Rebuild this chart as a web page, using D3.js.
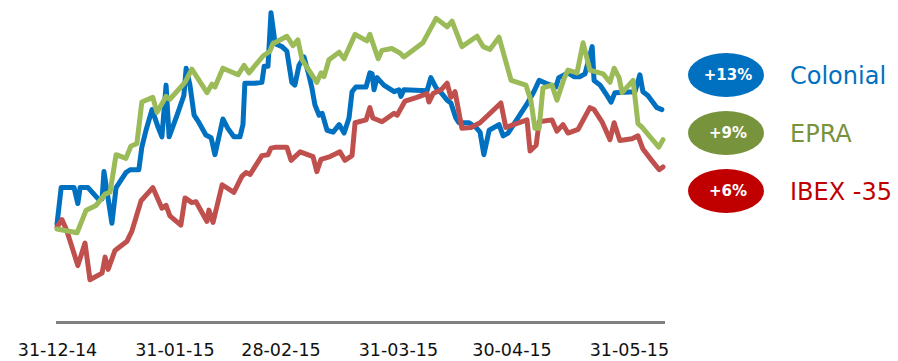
<!DOCTYPE html>
<html>
<head>
<meta charset="utf-8">
<script src="https://cdn.jsdelivr.net/npm/d3@7"></script>
<style>
  html, body { margin: 0; padding: 0; background: #fff; }
  svg { display: block; font-family: "DejaVu Sans", Verdana, sans-serif; }
</style>
</head>
<body>
<div id="chart"></div>
<script>
// day offset from 31-12-14, % change since start
const colonial = [
  [0, 0.4], [1.1, 4.3], [4.5, 4.3], [5.5, 2.6], [6.1, 4.3], [8.2, 4.3], [11.1, 3.0], [11.9, 3.1],
  [12.4, 6.0], [14.5, 0.5], [15.6, 4.3], [18.2, 5.9], [19.3, 6.2], [21.6, 6.2], [22.4, 8.6], [23.5, 10.4],
  [25.1, 12.6], [26.7, 10.7], [27.7, 9.7], [28.8, 15.2], [29.6, 9.7], [31.7, 12.0], [33.5, 14.1], [34.1, 17.0],
  [35.1, 15.2], [36.2, 12.0], [37.5, 11.2], [39.3, 9.9], [40.7, 9.6], [41.7, 7.8], [43.8, 11.6], [45.1, 10.6],
  [46.7, 9.7], [48.3, 9.7], [49.1, 11.0], [49.6, 15.4], [52.3, 15.4], [54.1, 15.5], [54.7, 17.2], [55.7, 17.2],
  [56.5, 22.9], [57.6, 19.6], [59.4, 19.3], [60.7, 18.8], [62.0, 15.5], [62.8, 15.2], [63.9, 17.3], [65.2, 18.2],
  [66.3, 16.6], [67.3, 14.9], [68.1, 13.1], [69.2, 12.0], [70.0, 12.2], [71.3, 10.4], [72.9, 10.2], [74.5, 11.0],
  [75.8, 10.1], [77.1, 11.7], [77.9, 14.5], [78.9, 15.0], [81.6, 15.0], [82.6, 16.5], [83.2, 16.4], [83.7, 14.7],
  [84.5, 16.0], [86.3, 15.2], [89.0, 14.5], [90.3, 14.7], [90.8, 14.0], [91.6, 14.7], [97.7, 14.6], [98.7, 16.0],
  [100.1, 14.9], [101.4, 14.4], [103.0, 13.6], [104.0, 13.3], [105.3, 11.7], [106.1, 11.2], [108.8, 11.2], [110.6, 10.7],
  [111.7, 10.2], [112.7, 7.8], [114.1, 10.4], [116.7, 11.0], [117.8, 9.8], [119.1, 10.1], [124.1, 13.2], [125.9, 14.5],
  [127.3, 15.7], [129.1, 15.4], [131.7, 15.0], [132.5, 16.0], [134.9, 16.5], [136.5, 16.1], [138.1, 16.1], [139.4, 16.4],
  [141.3, 19.3], [141.8, 15.7], [143.4, 15.2], [145.2, 14.1], [146.3, 13.4], [147.3, 14.4], [152.6, 14.5], [153.9, 16.3],
  [154.7, 14.5], [156.0, 14.1], [158.4, 12.8], [159.7, 12.6]
];

const epra = [
  [0, -0.1], [5.3, -0.5], [7.7, 1.9], [10.3, 2.4], [12.7, 3.6], [14.0, 3.8], [15.6, 7.8], [18.2, 7.4],
  [19.5, 8.7], [21.1, 9.0], [22.4, 13.4], [25.3, 13.9], [26.4, 12.3], [28.8, 14.0], [29.8, 13.7], [33.8, 15.5],
  [35.6, 16.9], [39.6, 14.4], [40.9, 15.3], [41.7, 15.0], [43.8, 17.0], [47.8, 16.3], [49.4, 17.3], [50.7, 16.5],
  [54.4, 18.3], [56.2, 18.8], [57.0, 19.6], [60.7, 20.4], [62.3, 19.4], [63.6, 20.0], [64.7, 17.9], [68.6, 15.5],
  [69.7, 16.5], [70.5, 16.1], [71.8, 17.9], [74.5, 18.7], [75.8, 18.0], [78.7, 20.6], [81.8, 19.9], [82.6, 20.6],
  [84.8, 18.0], [85.8, 18.9], [88.4, 19.1], [90.6, 18.6], [91.6, 18.2], [96.6, 19.7], [100.1, 22.3], [103.0, 21.4],
  [104.3, 22.0], [106.9, 19.3], [110.9, 20.4], [112.5, 19.3], [114.3, 19.0], [116.7, 20.3], [118.5, 17.7], [119.9, 15.7],
  [123.8, 15.2], [125.1, 13.6], [126.2, 10.6], [127.3, 10.6], [128.3, 14.9], [130.7, 15.2], [132.0, 13.6], [133.9, 15.9],
  [134.9, 16.8], [137.3, 16.5], [138.9, 19.7], [140.7, 16.8], [144.2, 16.4], [146.0, 15.5], [147.1, 17.0], [148.4, 16.0],
  [149.2, 14.4], [152.1, 15.7], [153.4, 11.1], [154.5, 10.7], [156.6, 9.7], [158.9, 8.6], [160.0, 9.4]
];

const ibex = [
  [0, 0.1], [1.3, 0.9], [2.6, -0.3], [5.5, -4.0], [7.4, -1.6], [8.7, -5.5], [11.9, -4.8], [12.7, -3.1],
  [13.5, -4.4], [15.3, -2.4], [18.5, -1.4], [19.8, -0.3], [22.2, 2.9], [25.3, 4.3], [27.7, 2.1], [28.8, 2.4],
  [29.8, 1.3], [32.7, 0.3], [33.8, 3.2], [35.6, 2.7], [36.7, 2.8], [39.6, 0.7], [40.1, 1.9], [41.2, 0.6],
  [43.6, 4.6], [46.7, 3.8], [48.8, 5.5], [49.9, 5.9], [51.0, 5.7], [54.1, 7.7], [55.7, 7.8], [56.5, 8.5],
  [57.8, 8.6], [60.7, 8.6], [61.8, 7.2], [64.2, 8.1], [67.6, 7.6], [68.6, 6.0], [69.7, 7.3], [72.1, 7.6],
  [74.7, 8.1], [76.0, 7.2], [77.9, 7.7], [78.7, 11.2], [81.6, 11.5], [82.6, 12.8], [83.4, 11.7], [85.8, 11.3],
  [89.0, 12.2], [89.8, 12.0], [91.9, 13.5], [95.0, 13.9], [97.7, 14.3], [98.2, 13.4], [99.3, 14.3], [101.4, 14.7],
  [103.0, 15.4], [104.0, 13.9], [105.1, 14.5], [106.9, 10.6], [109.3, 10.7], [111.7, 11.2], [117.2, 13.3], [118.5, 10.7],
  [124.1, 11.5], [124.9, 8.2], [126.5, 8.8], [127.3, 11.3], [130.7, 11.5], [132.0, 10.3], [133.6, 11.0], [134.9, 10.1],
  [137.6, 10.5], [140.7, 12.8], [141.8, 12.6], [143.9, 11.3], [146.0, 9.4], [147.1, 11.2], [148.6, 9.3], [151.8, 9.5],
  [153.4, 9.8], [154.7, 8.4], [156.8, 7.3], [159.0, 6.2], [160.0, 6.5]
];

const seriesNames = ["Colonial", "EPRA", "IBEX -35"];
const seriesTotals = ["+13%", "+9%", "+6%"];
const tickLabels = ["31-12-14", "31-01-15", "28-02-15", "31-03-15", "30-04-15", "31-05-15"];

const lineColors = ["#0070C0", "#9BBB59", "#C0504D"];
const legendColors = ["#0070C0", "#77933C", "#C00000"];

const width = 898, height = 361;
const parseDay = d3.timeParse("%d-%m-%y");
const start = parseDay(tickLabels[0]);
const toDate = d => new Date(start.getTime() + d * 864e5);

const svg = d3.select("#chart").append("svg")
  .attr("width", width)
  .attr("height", height);

const x = d3.scaleTime()
  .domain([start, toDate(160)])
  .range([57, 663]);
const y = d3.scaleLinear().domain([-10, 24]).range([322, 2.4]);

const line = d3.line()
  .x(d => x(toDate(d[0])))
  .y(d => y(d[1]));

// draw order: Colonial underneath, then IBEX, EPRA on top
const drawOrder = [0, 2, 1];
const allSeries = [colonial, epra, ibex];
svg.append("g").selectAll("path")
  .data(drawOrder)
  .enter()
  .append("path")
  .attr("d", i => line(allSeries[i]))
  .attr("fill", "none")
  .attr("stroke", i => lineColors[i])
  .attr("stroke-width", 5)
  .attr("stroke-linejoin", "round")
  .attr("stroke-linecap", "round");

const xAxis = d3.axisBottom(x)
  .tickValues(tickLabels.map(parseDay))
  .tickSize(0)
  .tickPadding(22)
  .tickFormat(d3.timeFormat("%d-%m-%y"));

const axisG = svg.append("g")
  .attr("transform", `translate(0,${y.range()[0]})`)
  .call(xAxis);
axisG.select(".domain")
  .attr("stroke", "#808080")
  .attr("stroke-width", 3)
  .attr("stroke-linecap", "square");
axisG.selectAll(".tick text")
  .attr("fill", "#111")
  .attr("font-size", 17.5)
  .attr("font-family", "DejaVu Sans, Verdana, sans-serif");

const legendY = d3.scalePoint().domain(seriesNames).range([75, 191]);
const leg = svg.append("g").selectAll("g")
  .data(seriesNames)
  .enter()
  .append("g")
  .attr("transform", d => `translate(726,${legendY(d)})`);

leg.append("ellipse")
  .attr("rx", 38)
  .attr("ry", 22)
  .attr("fill", (d, i) => legendColors[i]);

leg.append("text")
  .attr("x", 2)
  .attr("dy", "0.36em")
  .attr("text-anchor", "middle")
  .attr("fill", "#fff")
  .attr("font-weight", "bold")
  .attr("font-size", 15)
  .text((d, i) => seriesTotals[i]);

leg.append("text")
  .attr("x", 64)
  .attr("dy", "0.36em")
  .attr("fill", (d, i) => legendColors[i])
  .attr("font-size", 24)
  .text(d => d);
</script>
</body>
</html>
